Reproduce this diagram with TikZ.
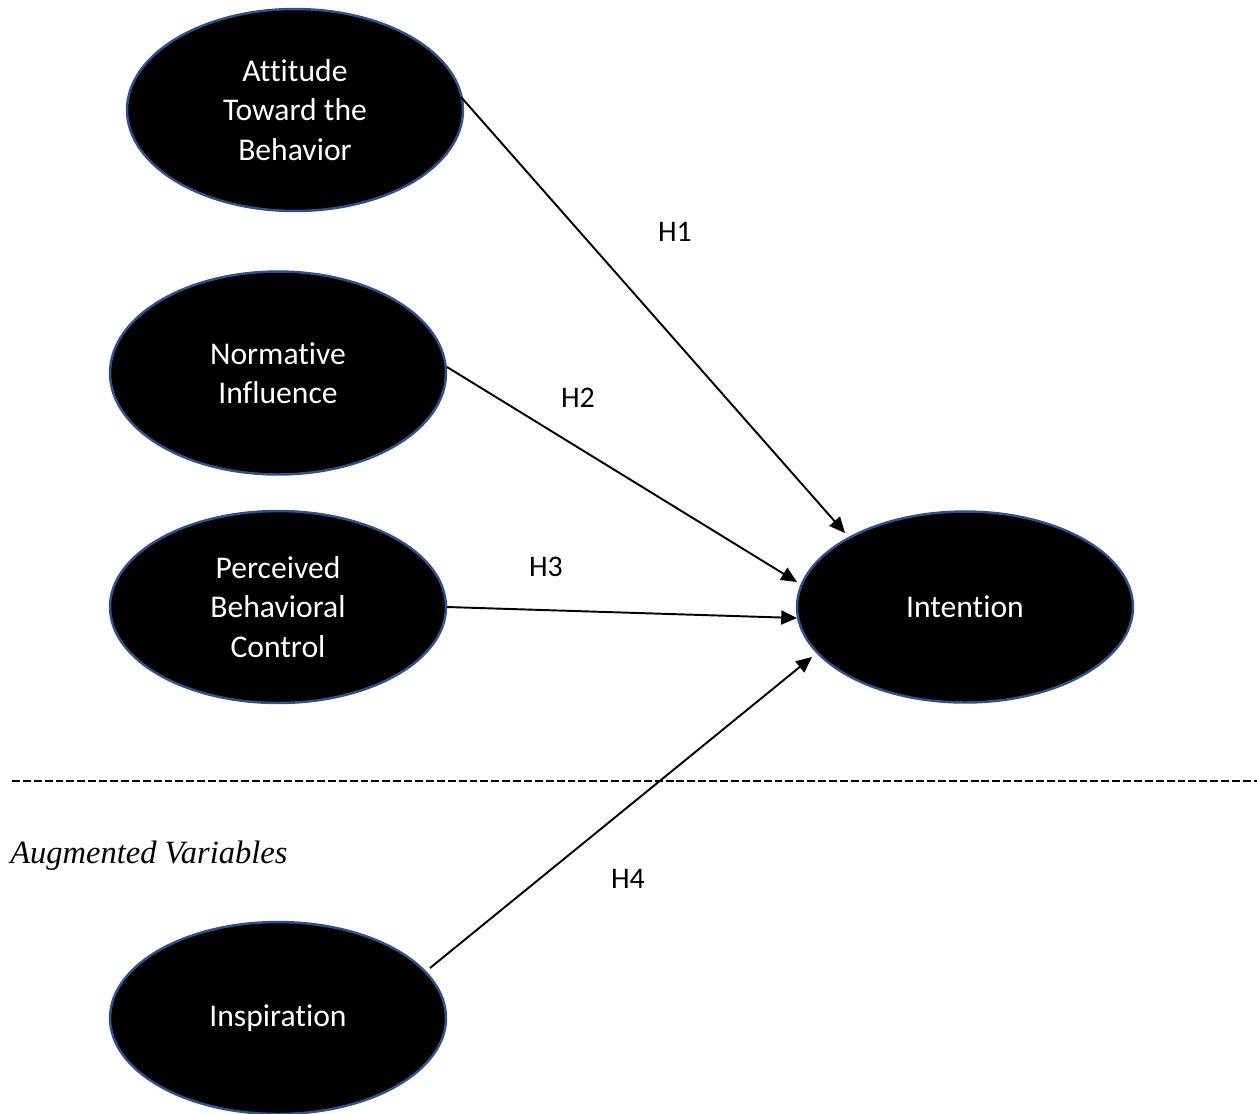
\documentclass[tikz,border=0pt]{standalone}
\usepackage{fontspec}
\setmainfont{Carlito}[Ligatures=NoCommon]
\newfontfamily\timesfont{Liberation Serif}
\usetikzlibrary{shapes.geometric,arrows.meta}
\definecolor{rimblue}{HTML}{2F528F}
\tikzset{
  construct/.style={ellipse, fill=black, draw=rimblue, line width=1.4pt, text=white,
    minimum width=6.72cm, align=center, font=\fontsize{18}{22.5}\selectfont, inner sep=0pt},
  path/.style={-{Triangle[length=9pt,width=8pt]}, line width=1.1pt},
  hlabel/.style={font=\fontsize{17}{20}\selectfont}
}
\begin{document}
\begin{tikzpicture}[x=0.02cm,y=-0.02cm]
\useasboundingbox (0,0) rectangle (1257,1113);
\node[construct, minimum height=4.04cm] (att) at (295,110) {Attitude\\Toward the\\Behavior};
\node[construct, minimum height=4.06cm] (norm) at (278,373) {Normative\\Influence};
\node[construct, minimum height=3.84cm] (pbc) at (278,607) {Perceived\\Behavioral\\Control};
\node[construct, minimum height=3.82cm] (int) at (965,607) {Intention};
\node[construct, minimum height=3.84cm] (insp) at (278,1018) {Inspiration};
\coordinate (a1) at (461,97);
\coordinate (b1) at (845,533);
\coordinate (a2) at (447,367);
\coordinate (b2) at (797,582);
\coordinate (a3) at (447,607);
\coordinate (b3) at (797,618);
\coordinate (a4) at (430,968);
\coordinate (b4) at (812,657);
\draw[path] (a1) -- (b1);
\draw[path] (a2) -- (b2);
\draw[path] (a3) -- (b3);
\draw[path] (a4) -- (b4);
\node[hlabel] (h1) at (675,232) {H1};
\node[hlabel] (h2) at (578,398) {H2};
\node[hlabel] (h3) at (546,567) {H3};
\node[hlabel] (h4) at (628,879) {H4};
\coordinate (dl) at (12,781);
\coordinate (dr) at (1257,781);
\draw[line width=1pt, dash pattern=on 4.5pt off 1.7pt] (dl) -- (dr);
\node[anchor=west, font=\timesfont\itshape\fontsize{18.5}{22}\selectfont, inner sep=0pt] (aug) at (10,856) {Augmented Variables};
\end{tikzpicture}
\end{document}
